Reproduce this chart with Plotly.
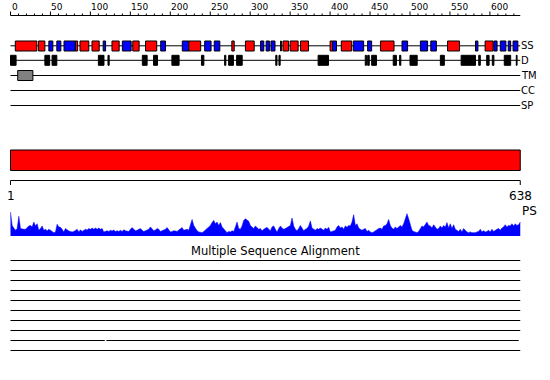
import numpy as np
import plotly.graph_objects as go

SEQ_LEN = 638

# Secondary structure (residue ranges)
helix = [(6, 33), (35, 43), (81, 84), (87, 98), (102, 111), (127, 136), (153, 161),
         (169, 183), (223, 238), (277, 280), (294, 305), (341, 348), (350, 360),
         (363, 373), (400, 403), (414, 427), (463, 480), (547, 562), (594, 604)]
strand = [(48, 53), (58, 63), (67, 81), (116, 119), (140, 151), (188, 194), (215, 223),
          (243, 251), (255, 262), (313, 317), (320, 324), (326, 331), (338, 339),
          (403, 408), (429, 442), (447, 452), (490, 497), (513, 522), (526, 533),
          (582, 585), (605, 609), (613, 620), (623, 626), (629, 635)]
# Disorder
disorder = [(0, 7), (43, 49), (52, 58), (110, 117), (122, 123.5), (165, 171), (179, 184),
            (202, 211), (239, 242), (268, 269.5), (273, 279), (283, 290), (332, 333.5),
            (336, 337.5), (385, 398), (444, 445.5), (447, 449), (452, 458), (479, 483),
            (487, 488.5), (500, 509), (538, 543), (564, 582), (586, 588), (596, 599),
            (603, 605), (618, 626), (633, 634)]
# Transmembrane
tm = [(9, 28)]
coiled_coil = []
signal_peptide = []

track_labels = ["SS", "D", "TM", "CC", "SP"]
ruler_ticks = list(range(0, 601, 50))
end_labels = ["1", "638"]

# Per-residue profile score (sampled)
ps_score = [
    1.00, 0.44, 0.33, 0.24, 0.31, 0.82, 0.31, 0.28, 0.28, 0.28, 0.36, 0.42, 0.44, 0.38, 0.58, 0.42,
    0.51, 0.24, 0.31, 0.42, 0.24, 0.28, 0.22, 0.28, 0.24, 0.17, 0.14, 0.17, 0.49, 0.38, 0.36, 0.28,
    0.17, 0.31, 0.25, 0.21, 0.19, 0.17, 0.19, 0.24, 0.28, 0.17, 0.26, 0.19, 0.22, 0.28, 0.25, 0.31,
    0.28, 0.33, 0.28, 0.33, 0.28, 0.33, 0.28, 0.31, 0.17, 0.19, 0.22, 0.19, 0.24, 0.21, 0.25, 0.19,
    0.22, 0.19, 0.24, 0.19, 0.26, 0.22, 0.22, 0.19, 0.28, 0.35, 0.28, 0.22, 0.24, 0.28, 0.31, 0.24,
    0.19, 0.22, 0.26, 0.28, 0.38, 0.28, 0.22, 0.25, 0.31, 0.28, 0.19, 0.22, 0.25, 0.28, 0.35, 0.24,
    0.17, 0.19, 0.22, 0.21, 0.19, 0.25, 0.31, 0.35, 0.24, 0.25, 0.28, 0.24, 0.44, 0.69, 0.44, 0.31,
    0.22, 0.17, 0.14, 0.14, 0.19, 0.24, 0.31, 0.38, 0.44, 0.56, 0.65, 0.51, 0.58, 0.44, 0.56, 0.38,
    0.31, 0.24, 0.14, 0.19, 0.17, 0.22, 0.19, 0.38, 0.58, 0.31, 0.28, 0.42, 0.65, 0.72, 0.65, 0.61,
    0.44, 0.38, 0.31, 0.42, 0.33, 0.28, 0.31, 0.22, 0.28, 0.31, 0.36, 0.28, 0.22,
    0.38, 0.42, 0.28, 0.17, 0.31, 0.42, 0.33, 0.28, 0.31, 0.36, 0.42, 0.44, 0.75, 0.42, 0.28, 0.22,
    0.31, 0.44, 0.33, 0.22, 0.28, 0.31, 0.42, 0.63, 0.33, 0.28, 0.24, 0.31, 0.28, 0.33, 0.28, 0.24,
    0.33, 0.28, 0.36, 0.17, 0.19, 0.22, 0.24, 0.38, 0.44, 0.33, 0.38, 0.28, 0.42, 0.36, 0.44, 0.42,
    0.58, 0.89, 0.44, 0.51, 0.33, 0.28, 0.24, 0.28, 0.31, 0.19, 0.24, 0.17, 0.14, 0.17, 0.22, 0.28,
    0.31, 0.33, 0.28, 0.42, 0.44, 0.51, 0.69, 0.44, 0.33, 0.28, 0.38, 0.31, 0.36, 0.44, 0.38, 0.51,
    0.72, 0.93, 0.72, 0.44, 0.24, 0.19, 0.17, 0.14, 0.19, 0.31, 0.42, 0.38, 0.51, 0.58, 0.44, 0.42,
    0.33, 0.47, 0.38, 0.28, 0.31, 0.42, 0.33, 0.44, 0.38, 0.56, 0.33, 0.51, 0.31, 0.47, 0.28, 0.24,
    0.19, 0.28, 0.17, 0.31, 0.22, 0.17, 0.14, 0.17, 0.14, 0.13, 0.14, 0.17, 0.19, 0.28, 0.17, 0.22,
    0.17, 0.19, 0.24, 0.17, 0.28, 0.19, 0.25, 0.28, 0.31, 0.24, 0.33, 0.38, 0.47, 0.38, 0.44, 0.42,
    0.51, 0.42, 0.51, 0.44, 0.47, 0.58,
]
ps_pos = np.linspace(0, SEQ_LEN, len(ps_score))

# MSA coverage rows: list of covered segments per aligned sequence
msa_rows = [
    [(0, 638)], [(0, 638)], [(0, 638)], [(0, 638)], [(0, 638)],
    [(0, 638)], [(0, 638)], [(0, 638)], [(0, 118), (120, 636)], [(0, 638)],
]

# ---- layout geometry (pixel rows on a 380px canvas) ----
W, H = 550, 380
PX0, PXK = 10.5, 0.799  # x pixel = PX0 + PXK*residue
xr = [-PX0 / PXK, (W - PX0) / PXK]
FONT = "DejaVu Sans"

fig = go.Figure()
shapes = []
ann = []

def hline(x0, x1, y, w=1):
    shapes.append(dict(type="line", xref="x", yref="y", x0=x0, x1=x1, y0=y, y1=y,
                       line=dict(color="black", width=w)))

def box(x0, x1, y0, y1, fill):
    shapes.append(dict(type="rect", xref="x", yref="y", x0=x0, x1=x1, y0=y0, y1=y1,
                       fillcolor=fill, line=dict(color="black", width=1)))

# top ruler
RY = 15.5
hline(0, SEQ_LEN, RY)
for t in range(0, SEQ_LEN, 10):
    major = t % 50 == 0
    shapes.append(dict(type="line", xref="x", yref="y", x0=t, x1=t,
                       y0=RY, y1=RY - (4 if major else 2), line=dict(color="black", width=1)))
for t in ruler_ticks:
    ann.append(dict(x=t, y=7, xref="x", yref="y", text=str(t), showarrow=False,
                    xanchor="left", yanchor="middle", xshift=-1,
                    font=dict(family=FONT, size=9, color="black")))

# tracks
row_y = {"SS": 45.8, "D": 60.3, "TM": 75.5, "CC": 90.5, "SP": 105.5}
for lab in track_labels:
    hline(0, SEQ_LEN, row_y[lab])
    ann.append(dict(x=SEQ_LEN, y=row_y[lab], xref="x", yref="y", text=lab, showarrow=False,
                    xanchor="left", yanchor="middle", xshift=-1,
                    font=dict(family=FONT, size=10, color="black")))

for a, b in helix:
    box(a, b, 41, 51, "#ff0000")
for a, b in strand:
    box(a, b, 41, 51, "#0000ff")
for a, b in disorder:
    box(a, b, 55.3, 65.3, "black")
for a, b in tm:
    box(a, b, 70.5, 80.5, "#808080")
for a, b in coiled_coil:
    box(a, b, 85.5, 95.5, "#00aa00")
for a, b in signal_peptide:
    box(a, b, 100.5, 110.5, "#ffaa00")

# domain bar
box(0, SEQ_LEN, 150, 170.5, "#ff0000")

# lower ruler
hline(0, SEQ_LEN, 180.5)
for t in (0, SEQ_LEN):
    shapes.append(dict(type="line", xref="x", yref="y", x0=t, x1=t, y0=180.5, y1=185,
                       line=dict(color="black", width=1)))
ann.append(dict(x=1, y=196, xref="x", yref="y", text=end_labels[0], showarrow=False,
                xanchor="center", yanchor="middle", font=dict(family=FONT, size=12, color="black")))
ann.append(dict(x=SEQ_LEN, y=196, xref="x", yref="y", text=end_labels[1], showarrow=False,
                xanchor="center", yanchor="middle", font=dict(family=FONT, size=12, color="black")))
ann.append(dict(x=SEQ_LEN, y=211, xref="x", yref="y", text="PS", showarrow=False,
                xanchor="left", yanchor="middle", xshift=0,
                font=dict(family=FONT, size=12, color="black")))

# PS profile
fig.add_trace(go.Scatter(x=ps_pos, y=ps_score, mode="lines", fill="tozeroy",
                         line=dict(color="#0000ff", width=0.5), fillcolor="#0000ff",
                         xaxis="x", yaxis="y2", hoverinfo="skip", showlegend=False))

# MSA
ann.append(dict(x=0.5, y=251, xref="paper", yref="y", text="Multiple Sequence Alignment",
                showarrow=False, xanchor="center", yanchor="middle",
                font=dict(family=FONT, size=11.5, color="black")))
for i, segs in enumerate(msa_rows):
    y = 260.5 + 10 * i
    for a, b in segs:
        hline(a, b, y)

fig.add_trace(go.Scatter(x=[0], y=[0], mode="markers", marker=dict(opacity=0),
                         hoverinfo="skip", showlegend=False))

fig.update_layout(
    width=W, height=H, margin=dict(l=0, r=0, t=0, b=0),
    paper_bgcolor="white", plot_bgcolor="white",
    xaxis=dict(range=xr, visible=False, fixedrange=True),
    yaxis=dict(range=[H, 0], visible=False, fixedrange=True),
    yaxis2=dict(range=[0, 1], domain=[(H - 236) / H, (H - 212) / H], visible=False,
                anchor="x", fixedrange=True),
    shapes=shapes, annotations=ann, showlegend=False,
)
fig.write_html("out.html", config={"displayModeBar": False},
               post_script="document.body.style.margin='0px';document.body.style.overflow='hidden';")
